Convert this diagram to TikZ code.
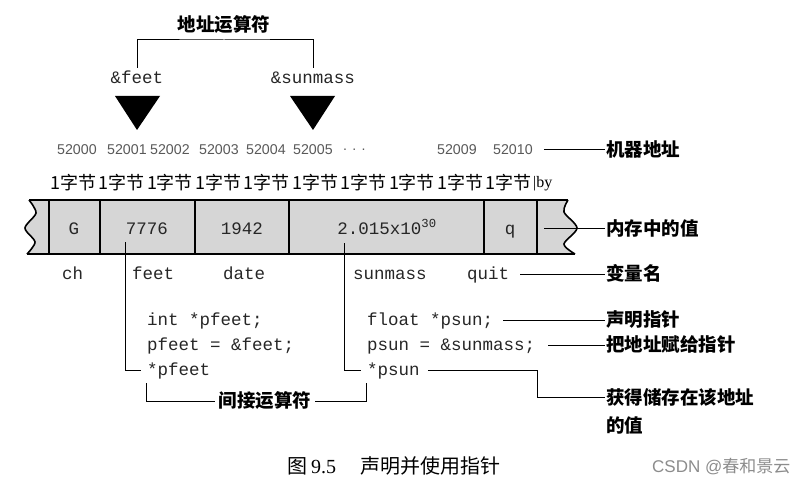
\documentclass[tikz,border=0pt]{standalone}
\usepackage{fontspec}
\setmainfont{Liberation Serif}
\setsansfont{Liberation Sans}
\setmonofont{Liberation Mono}
\newfontfamily\cjk{Noto Sans CJK SC}
\usetikzlibrary{calc}

\tikzset{
  code/.style={font=\ttfamily\fontsize{17.5}{20}\selectfont, text=black!85, inner sep=1pt,
    text height=13pt, text depth=3pt, anchor=west},
  addr/.style={font=\sffamily\fontsize{14.2}{16}\selectfont, text=black!65, inner sep=0pt, anchor=west},
  tag/.style={font={\cjk\bfseries\fontsize{18.5}{22}\selectfont}, inner sep=1pt, anchor=west},
  bytetag/.style={font={\cjk\fontsize{18}{20}\selectfont}, inner sep=0pt, anchor=west},
  lead/.style={line width=1pt},
  cellline/.style={line width=2pt},
}

\begin{document}
\begin{tikzpicture}[x=1pt, y=-1pt]
  \useasboundingbox (0,0) rectangle (803,484);

  % 顶部：地址运算符
  \node[tag, anchor=center] (addrop) at (224,25) {地址运算符};
  \coordinate (bar) at (224,40);
  \node[code, anchor=center] (reffeet) at (137,79) {\&feet};
  \node[code, anchor=center] (refsun) at (313,79) {\&sunmass};
  \draw[lead, shorten <=2pt, shorten >=2pt] (reffeet.north) |- (bar) -| (refsun.north);
  \fill (115,96) -- (160,96) -- (137,130) -- cycle;
  \fill (290,96) -- (335,96) -- (313,130) -- cycle;

  % 机器地址
  \node[addr] (a52000) at (57,150) {52000};
  \node[addr] (a52001) at (107,150) {52001};
  \node[addr] (a52002) at (150,150) {52002};
  \node[addr] (a52003) at (199,150) {52003};
  \node[addr] (a52004) at (246,150) {52004};
  \node[addr] (a52005) at (293,150) {52005};
  \node[addr] (adots) at (343,150) {. . .};
  \node[addr] (a52009) at (437,150) {52009};
  \node[addr] (a52010) at (493,150) {52010};
  \node[tag] (machaddr) at (605,149) {机器地址};
  \draw[lead, shorten <=11pt] (a52010.east) -- (a52010.east -| machaddr.west);

  % 每格 1 字节
  \foreach \i in {0,...,9}
    \node[bytetag] (byte\i) at ({50+48.4*\i},183) {1字节};
  \node[anchor=west, inner sep=0pt, font=\fontsize{16}{18}\selectfont] (byteend) at (533,184) {|by};

  % 内存条
  \fill[gray!32] plot[smooth] coordinates {(29,200) (36,213) (25,228) (35,242) (27,254)}
    -- plot[smooth] coordinates {(575,254) (564,244) (577,228) (564,212) (568,200)} -- cycle;
  \draw[cellline] (29,200) -- (568,200);
  \draw[cellline] (27,254) -- (575,254);
  \draw[line width=1.6pt] plot[smooth] coordinates {(29,200) (36,213) (25,228) (35,242) (27,254)};
  \draw[line width=1.6pt] plot[smooth] coordinates {(568,200) (564,212) (577,228) (564,244) (575,254)};
  \foreach \x in {49,100,195,289,484,537}
    \draw[cellline] (\x,200) -- (\x,254);

  % 内存中的值
  \node[code, anchor=center] (vch) at (74,229) {G};
  \node[code, anchor=center] (vfeet) at (147,229) {7776};
  \node[code, anchor=center] (vdate) at (242,229) {1942};
  \node[code, anchor=center] (vsun) at (387,229) {2.015x10\textsuperscript{30}};
  \node[code, anchor=center] (vquit) at (510,229) {q};
  \coordinate (memend) at (544,228);
  \node[tag] (memval) at (605,228) {内存中的值};
  \draw[lead] (memend) -- (memval.west);

  % 变量名
  \node[code] (nch) at (61,274) {ch};
  \node[code] (nfeet) at (131,274) {feet};
  \node[code] (ndate) at (222,274) {date};
  \node[code] (nsun) at (352,274) {sunmass};
  \node[code] (nquit) at (466,274) {quit};
  \node[tag] (varname) at (605,273) {变量名};
  \draw[lead, shorten <=10pt] (nquit.east) -- (nquit.east -| varname.west);

  % 指针代码
  \node[code] (declfeet) at (146,320) {int *pfeet;};
  \node[code] (assignfeet) at (146,345) {pfeet = \&feet;};
  \node[code] (derefeet) at (146,370) {*pfeet};
  \node[code] (declsun) at (366,320) {float *psun;};
  \node[code] (assignsun) at (366,345) {psun = \&sunmass;};
  \node[code] (derefsun) at (366,370) {*psun};

  \coordinate (feetptr) at (125,242);
  \coordinate (sunptr) at (344,243);
  \draw[lead, shorten >=5pt] (feetptr) |- (derefeet.west);
  \draw[lead, shorten >=5pt] (sunptr) |- (derefsun.west);

  \node[tag] (declare) at (605,320) {声明指针};
  \node[tag] (assign) at (605,345) {把地址赋给指针};
  \node[tag] (fetch) at (605,397) {获得储存在该地址};
  \node[tag] (fetchb) at (605,425) {的值};
  \draw[lead, shorten <=9pt] (declsun.east) -- (declare.west);
  \draw[lead, shorten <=12pt] (assignsun.east) -- (assign.west);
  \draw[lead, shorten <=7pt] (derefsun.east) -- ++(117,0) |- (fetch.west);

  % 间接运算符
  \node[tag, anchor=center, inner sep=4pt] (indirect) at (265,401) {间接运算符};
  \draw[lead, shorten <=4pt] (derefeet.south west) |- (indirect.west);
  \draw[lead, shorten <=4pt] (derefsun.south west) |- (indirect.east);

  % 图题
  \node[anchor=west, inner sep=0pt, font=\fontsize{20}{22}\selectfont] (caption) at (287,466)
    {{\cjk 图}\hspace{4pt}9.5\hspace{24pt}{\cjk 声明并使用指针}};
  \node[anchor=west, inner sep=0pt, text=black!45, font=\fontsize{17}{20}\selectfont] (mark) at (652,467)
    {\sffamily CSDN @{\cjk 春和景云}};
\end{tikzpicture}
\end{document}
